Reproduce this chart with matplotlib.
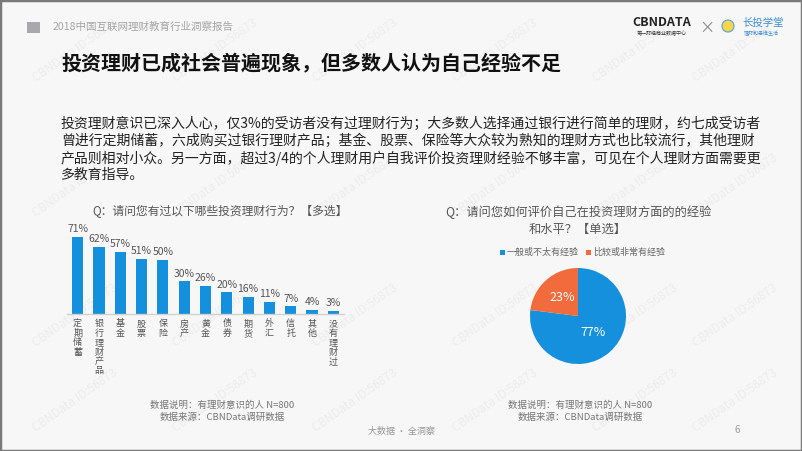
import numpy as np
import matplotlib.pyplot as plt
from matplotlib.patches import Rectangle, Ellipse

plt.rcParams['font.family'] = ['Noto Sans CJK SC', 'DejaVu Sans']

# data
behaviours = ['定期储蓄', '银行理财产品', '基金', '股票', '保险', '房产', '黄金',
              '债券', '期货', '外汇', '信托', '其他', '没有理财过']
behaviour_pct = [71, 62, 57, 51, 50, 30, 26, 20, 16, 11, 7, 4, 3]

exp_labels = ['一般或不太有经验', '比较或非常有经验']
exp_pct = [77, 23]

blue = '#1590dc'
orange = '#f26b3c'
bg = '#f7f7f7'

W, H = 802, 451
fig = plt.figure(figsize=(W / 100, H / 100), dpi=100, facecolor=bg)

def px(x, y):
    return x / W, 1 - y / H

def txt(x, y, s, **kw):
    fx, fy = px(x, y)
    fig.text(fx, fy, s, **kw)

# frame
fig.patches.append(Rectangle((0, 0), 1, 1, transform=fig.transFigure, fill=False,
                             edgecolor='#7a7a7a', linewidth=2.5))

# watermarks (faint, behind everything)
for wy in [50, 185, 315, 400]:
    for wx in [75, 215, 355, 495, 635, 735]:
        txt(wx, wy, 'CBNData ID:56873', fontsize=8.5, color='#ececec',
            rotation=35, ha='center', va='center', zorder=-5)

# header
fig.patches.append(Rectangle(px(27, 33), 13 / W, 11 / H, transform=fig.transFigure,
                             facecolor='#a8a8ad', edgecolor='none'))
txt(53, 27, '2018中国互联网理财教育行业洞察报告', fontsize=7.6, color='#a5a5a5', va='center')

# logos
txt(632, 23, 'CBNDATA', fontsize=9, fontweight='bold', color='#222222', va='center')
txt(662, 34, '第一财经商业数据中心', fontsize=3.6, color='#333333', va='center', ha='center')
txt(707, 28, '×', fontsize=11, color='#888888', va='center', ha='center')
fig.patches.append(Ellipse(px(728, 26), 12 / W, 12 / H, transform=fig.transFigure,
                           facecolor='#f7d648', edgecolor='#5aa0e0', linewidth=0.8))
txt(742, 23, '长投学堂', fontsize=7.5, color='#3a8ed8', va='center')
txt(761, 34, '理财和思维生活', fontsize=3.6, color='#3a8ed8', va='center', ha='center')

# title
txt(61, 63, '投资理财已成社会普遍现象，但多数人认为自己经验不足', fontsize=14.4,
    fontweight='bold', color='#111111', va='center')

# body text
body = ['投资理财意识已深入人心，仅3%的受访者没有过理财行为；大多数人选择通过银行进行简单的理财，约七成受访者',
        '曾进行定期储蓄，六成购买过银行理财产品；基金、股票、保险等大众较为熟知的理财方式也比较流行，其他理财',
        '产品则相对小众。另一方面，超过3/4的个人理财用户自我评价投资理财经验不够丰富，可见在个人理财方面需要更',
        '多教育指导。']
for i, line in enumerate(body):
    txt(61, 124 + i * 17, line, fontsize=10, color='#222222', va='center')

# bar chart
ax = fig.add_axes([67 / W, 1 - 314 / H, 277 / W, 87 / H])
ax.set_facecolor('none')
x = np.arange(len(behaviours))
ax.bar(x, behaviour_pct, width=0.52, color=blue)
ax.set_xlim(-0.5, len(behaviours) - 0.5)
ax.set_ylim(0, 80)
for s in ['top', 'right', 'left']:
    ax.spines[s].set_visible(False)
ax.spines['bottom'].set_color('#d0d0d0')
ax.spines['bottom'].set_linewidth(1)
ax.set_yticks([])
ax.set_xticks([])
for xi, v in zip(x, behaviour_pct):
    ax.text(xi, v + 2.5, f'{v}%', ha='center', va='bottom', fontsize=7.5, color='#555555')
    ax.text(xi, -5, '\n'.join(behaviours[xi]), ha='center', va='top', fontsize=6.5,
            color='#555555', linespacing=1.05, clip_on=False)
txt(220, 212, 'Q：请问您有过以下哪些投资理财行为？【多选】', fontsize=8.5, color='#555555',
    ha='center', va='center')

# pie chart
pax = fig.add_axes([530 / W, 1 - 364 / H, 96 / W, 96 / H])
wedges, _ = pax.pie(exp_pct, colors=[blue, orange], startangle=90, counterclock=False,
                    wedgeprops=dict(linewidth=0))
pax.set_xlim(-1, 1)
pax.set_ylim(-1, 1)
pax.text(0.32, -0.35, f'{exp_pct[0]}%', ha='center', va='center', fontsize=9, color='white')
pax.text(-0.33, 0.38, f'{exp_pct[1]}%', ha='center', va='center', fontsize=9, color='white')
txt(578, 212, 'Q：请问您如何评价自己在投资理财方面的的经验', fontsize=8.8, color='#555555',
    ha='center', va='center')
txt(578, 229, '和水平？【单选】', fontsize=8.8, color='#555555', ha='center', va='center')
fig.patches.append(Rectangle(px(500, 255), 5 / W, 5 / H, transform=fig.transFigure,
                             facecolor=blue, edgecolor='none'))
txt(507, 252, exp_labels[0], fontsize=6.5, color='#666666', va='center')
fig.patches.append(Rectangle(px(586, 255), 5 / W, 5 / H, transform=fig.transFigure,
                             facecolor=orange, edgecolor='none'))
txt(593, 252, exp_labels[1], fontsize=6.5, color='#666666', va='center')

# notes
for cx in [222, 580]:
    txt(cx, 405, '数据说明：有理财意识的人 N=800', fontsize=6.8, color='#777777', ha='center', va='center')
    txt(cx, 417, '数据来源：CBNData调研数据', fontsize=6.8, color='#777777', ha='center', va='center')
txt(401, 431, '大数据 · 全洞察', fontsize=6.5, color='#999999', ha='center', va='center')
txt(737, 430, '6', fontsize=7, color='#999999', ha='center', va='center')

fig.savefig('out.png', dpi=100, facecolor=bg)
